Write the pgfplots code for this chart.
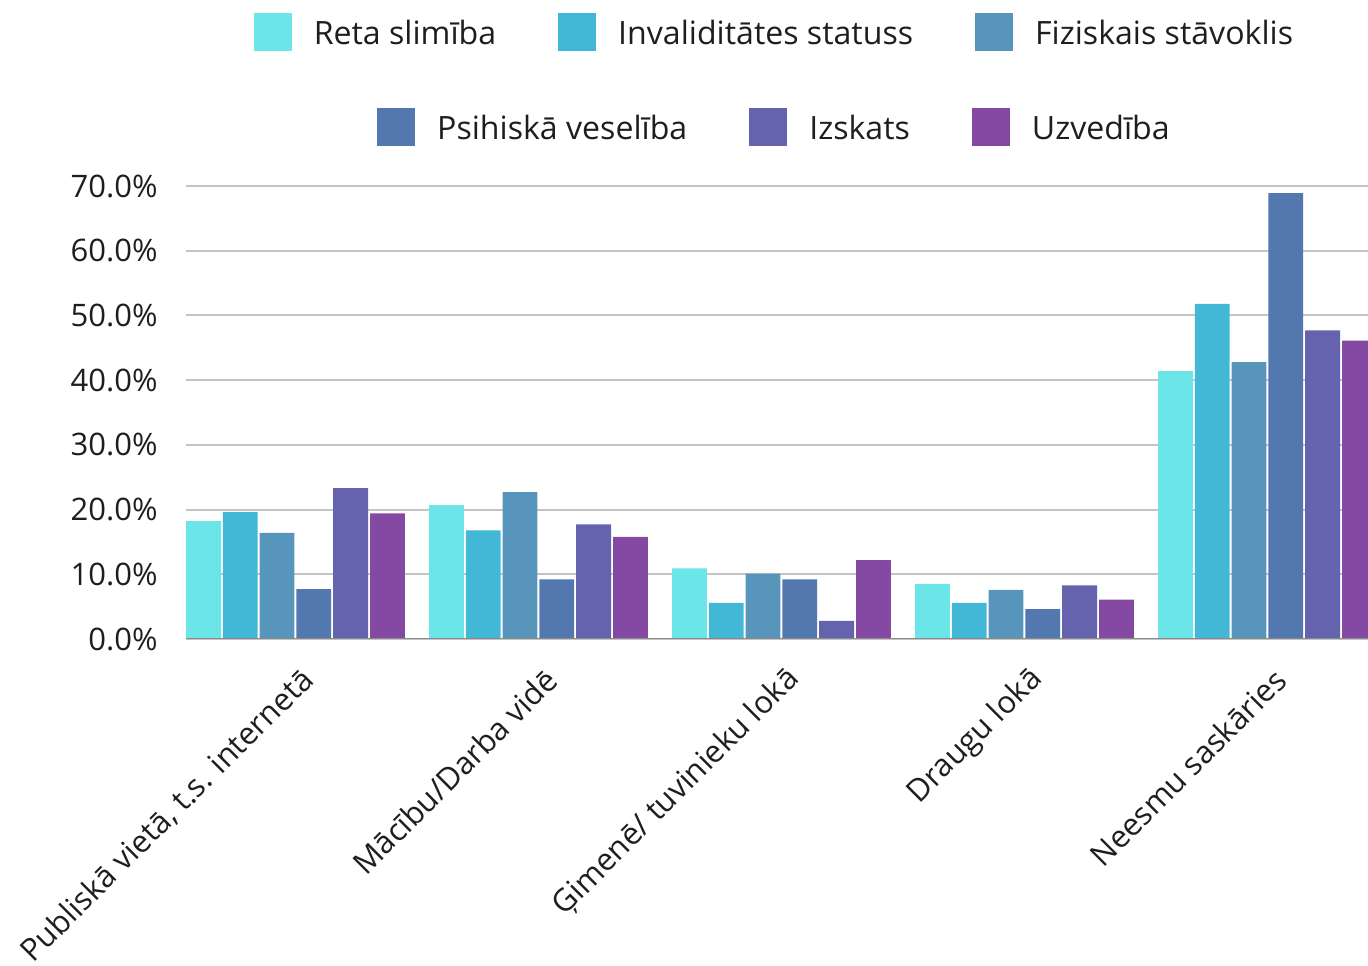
\documentclass[border=0pt]{standalone}
\usepackage{pgfplots}
\pgfplotsset{compat=1.18}
\usepackage{fontspec}
\setmainfont{Open Sans}
\definecolor{c1}{HTML}{6CE5E8}
\definecolor{c2}{HTML}{42B7D6}
\definecolor{c3}{HTML}{5796BA}
\definecolor{c4}{HTML}{5378B0}
\definecolor{c5}{HTML}{6562AE}
\definecolor{c6}{HTML}{8449A3}
\definecolor{gridc}{HTML}{C4C4C4}
\definecolor{basec}{HTML}{8A8A8A}
\definecolor{textc}{HTML}{1E1E1E}
\newcommand\fs{\fontsize{15.5}{18.6}\selectfont}
\newcommand\fl{\fontsize{16.05}{19.2}\selectfont}
\pgfplotsset{
  sqlegend/.style={legend image code/.code={\fill[##1, draw=none] (0pt,-9.5pt) rectangle (19pt,9.5pt);}},
  legaxis/.style={scale only axis, width=591pt, height=226.5pt, hide axis,
    xmin=0, xmax=1, ymin=0, ymax=1,
    legend columns=3,
    legend style={draw=none, fill=none, font=\fl, text=textc, anchor=center,
      inner sep=0pt, outer sep=0pt,
      nodes={inner sep=0pt, text depth=0pt},
      /tikz/every even column/.append style={column sep=31pt},
      /tikz/every odd column/.append style={column sep=11pt}},
  },
}
\pgfplotstableread{
x reta inv fiz psih izsk uzv
0 18.2 19.6 16.4 7.7 23.3 19.4
1 20.7 16.8 22.7 9.2 17.7 15.8
2 10.9 5.6 10.1 9.2 2.8 12.2
3 8.5 5.6 7.6 4.6 8.3 6.1
4 41.4 51.8 42.8 68.9 47.7 46.1
}\datatable
\begin{document}
\begin{tikzpicture}
\begin{axis}[
  scale only axis, width=591pt, height=226.5pt,
  ybar=1pt, bar width=17.4pt,
  xmin=-0.4502, xmax=4.414, ymin=0, ymax=70,
  xtick={0,1,2,3,4},
  xticklabels={Publiskā vietā{,} t.s. internetā, Mācību/Darba vidē, Ģimenē/ tuvinieku lokā, Draugu lokā, Neesmu saskāries},
  ytick={0,10,...,70},
  axis line style={draw=none},
  ymajorgrids, grid style={color=gridc, line width=1pt},
  major tick length=0pt,
  /pgf/number format/assume math mode=true,
  yticklabel={\pgfmathprintnumber[fixed,fixed zerofill,precision=1]{\tick}\%},
  tick label style={font=\fs, text=textc},
  yticklabel style={anchor=east, inner sep=0pt, xshift=-14pt},
  xticklabel style={xshift=6.7pt, yshift=-17.8pt, rotate=45, anchor=east, inner sep=0pt},
  clip=true,
]
\addplot[fill=c1, draw=none] table[x=x, y=reta] {\datatable};
\addplot[fill=c2, draw=none] table[x=x, y=inv] {\datatable};
\addplot[fill=c3, draw=none] table[x=x, y=fiz] {\datatable};
\addplot[fill=c4, draw=none] table[x=x, y=psih] {\datatable};
\addplot[fill=c5, draw=none] table[x=x, y=izsk] {\datatable};
\addplot[fill=c6, draw=none] table[x=x, y=uzv] {\datatable};
\draw[basec, line width=1pt] (rel axis cs:0,0) -- (rel axis cs:1,0);
\coordinate (SW) at (rel axis cs:0,0);
\coordinate (NE) at (rel axis cs:1,1);
\end{axis}
\begin{axis}[legaxis, legend style={at={(0.497,1.340)}}]
\addlegendimage{sqlegend, fill=c1}
\addlegendimage{sqlegend, fill=c2}
\addlegendimage{sqlegend, fill=c3}
\legend{Reta slimība, Invaliditātes statuss, Fiziskais stāvoklis}
\end{axis}
\begin{axis}[legaxis, legend style={at={(0.497,1.130)}}]
\addlegendimage{sqlegend, fill=c4}
\addlegendimage{sqlegend, fill=c5}
\addlegendimage{sqlegend, fill=c6}
\legend{Psihiskā veselība, Izskats, Uzvedība}
\end{axis}
\pgfresetboundingbox
\path ([xshift=-93pt,yshift=-163.5pt]SW) rectangle ([yshift=93pt]NE);
\end{tikzpicture}
\end{document}
